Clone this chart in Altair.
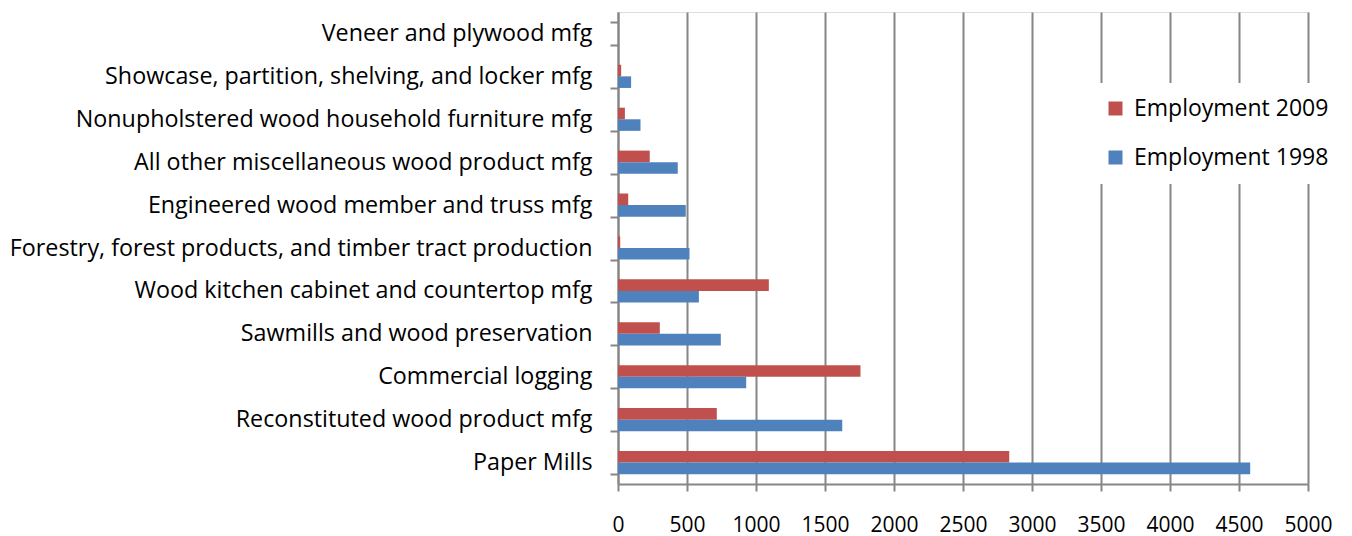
import altair as alt
import pandas as pd

# Industries, top to bottom as listed on the axis
industries = [
    "Veneer and plywood mfg",
    "Showcase, partition, shelving, and locker mfg",
    "Nonupholstered wood household furniture mfg",
    "All other miscellaneous wood product mfg",
    "Engineered wood member and truss mfg",
    "Forestry, forest products, and timber tract production",
    "Wood kitchen cabinet and countertop mfg",
    "Sawmills and wood preservation",
    "Commercial logging",
    "Reconstituted wood product mfg",
    "Paper Mills",
]

employment_2009 = [0, 23, 50, 230, 74, 16, 1093, 303, 1757, 716, 2835]
employment_1998 = [0, 95, 163, 433, 491, 518, 586, 745, 929, 1625, 4581]

series_names = ["Employment 2009", "Employment 1998"]
series_colors = ["#C0504D", "#4F81BD"]
x_ticks = [0, 500, 1000, 1500, 2000, 2500, 3000, 3500, 4000, 4500, 5000]

rows = []
for name, vals in zip(series_names, [employment_2009, employment_1998]):
    for ind, v in zip(industries, vals):
        rows.append({"industry": ind, "series": name, "employment": v})
df = pd.DataFrame(rows)

grid_gray = "#868686"
font = "Open Sans"

chart = (
    alt.Chart(df)
    .mark_bar()
    .encode(
        y=alt.Y(
            "industry:N",
            sort=industries,
            title=None,
            scale=alt.Scale(paddingInner=0.46, paddingOuter=0.23),
            axis=alt.Axis(
                tickBand="extent",
                tickSize=8,
                tickColor=grid_gray,
                tickWidth=2,
                domainColor=grid_gray,
                domainWidth=2,
                grid=False,
                labelFont=font,
                labelFontSize=23.3,
                labelColor="black",
                labelPadding=18,
                labelLimit=700,
            ),
        ),
        yOffset=alt.YOffset("series:N", sort=series_names),
        x=alt.X(
            "employment:Q",
            title=None,
            scale=alt.Scale(domain=[0, 5000], nice=False),
            axis=alt.Axis(
                values=x_ticks,
                format="d",
                grid=True,
                gridColor=grid_gray,
                gridWidth=2,
                gridOpacity=1,
                tickSize=7,
                tickColor=grid_gray,
                tickWidth=2,
                domainColor=grid_gray,
                domainWidth=2,
                labelFont=font,
                labelFontSize=21,
                labelColor="black",
                labelBaseline="alphabetic",
                labelPadding=40,
                labelFlush=False,
                labelOverlap=False,
            ),
        ),
        color=alt.Color(
            "series:N",
            scale=alt.Scale(domain=series_names, range=series_colors),
            legend=alt.Legend(
                title=None,
                orient="none",
                legendX=472,
                legendY=71,
                fillColor="white",
                padding=14,
                symbolType="square",
                symbolSize=196,
                symbolStrokeWidth=0,
                labelFont=font,
                labelFontSize=23,
                labelColor="black",
                labelOffset=7,
                rowPadding=25,
                labelLimit=400,
            ),
        ),
    )
    .properties(
        width=690,
        height=472,
        autosize=alt.AutoSizeParams(type="none"),
        padding={"left": 618, "top": 12, "right": 44, "bottom": 52},
    )
    .configure_view(stroke=None)
    .configure(background="white")
)

chart.save("out.html", embed_options={"renderer": "svg", "actions": False})
